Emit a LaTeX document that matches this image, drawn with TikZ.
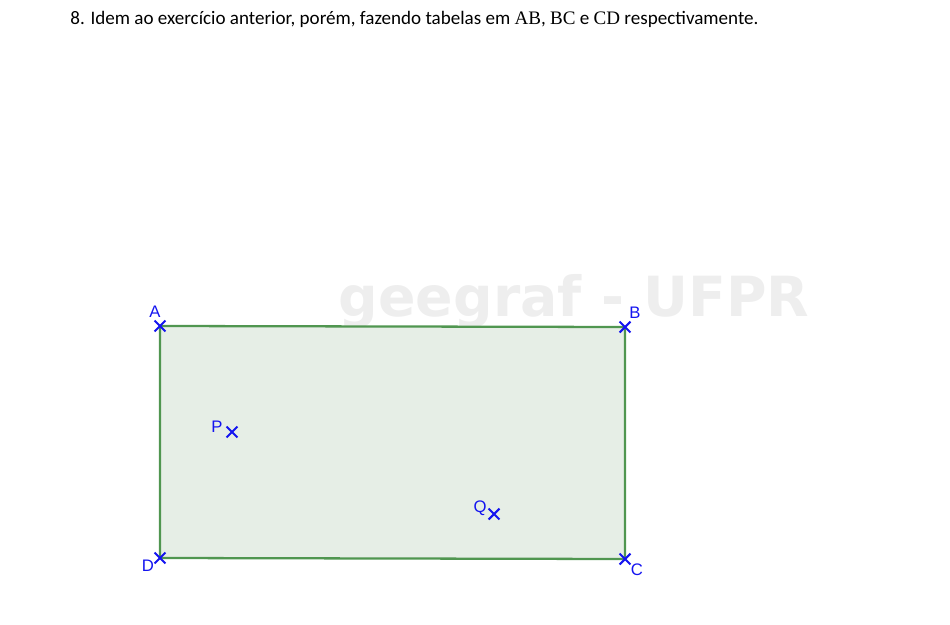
\documentclass[tikz,border=0pt]{standalone}
\usepackage{fontspec}
\setmainfont{Carlito}
\newfontfamily\watermarkfont{DejaVu Sans}
\newfontfamily\labelfont{Liberation Sans}
\newfontfamily\segfont{Liberation Serif}
\usetikzlibrary{shapes.misc}
\usetikzlibrary{positioning}

\definecolor{ptblue}{RGB}{20,20,240}
\definecolor{rectgreen}{RGB}{80,150,80}
\definecolor{rectfill}{RGB}{230,238,230}
\definecolor{markgray}{RGB}{238,238,238}

\tikzset{
  pt/.style={cross out, draw=ptblue, line width=1.2pt, minimum size=5pt, inner sep=0pt},
  ptlabel/.style={text=ptblue, font=\labelfont\fontsize{9.5}{10}\selectfont, inner sep=0pt},
  region/.style={draw=rectgreen, fill=rectfill, line width=1.3pt}
}

\begin{document}
\begin{tikzpicture}[x=0.02cm, y=-0.02cm]

  % Frame
  \useasboundingbox (0,0) rectangle (950,625);

  % Statement
  \node[anchor=base west, inner sep=0pt, font=\fontsize{10.85}{13}\selectfont] (title) at (70,25)
    {8. Idem ao exercício anterior, porém, fazendo tabelas em {\segfont AB}, {\segfont BC} e {\segfont CD} respectivamente.};

  % Watermark
  \node[text=markgray, font=\watermarkfont\bfseries\fontsize{31.5}{34}\selectfont, inner sep=0pt, anchor=base] (mark) at (574,316) {geegraf - UFPR};

  % Define corners
  \coordinate (a) at (160,326);
  \coordinate (b) at (625,327);
  \coordinate (c) at (625,559);
  \coordinate (d) at (160,558);

  % Rectangle
  \draw[region] (a) -- (b) -- (c) -- (d) -- cycle;

  % Points
  \node[pt] (A) at (a) {};
  \node[pt] (B) at (b) {};
  \node[pt] (C) at (c) {};
  \node[pt] (D) at (d) {};
  \node[pt] (P) at (232,432) {};
  \node[pt] (Q) at (494,514) {};

  % Labels
  \node[ptlabel] (labA) at (155,312) {A};
  \node[ptlabel] (labB) at (635,313) {B};
  \node[ptlabel] (labC) at (637,570) {C};
  \node[ptlabel] (labD) at (148,566) {D};
  \node[ptlabel] (labP) at (217,427) {P};
  \node[ptlabel] (labQ) at (480,508) {Q};

\end{tikzpicture}
\end{document}
